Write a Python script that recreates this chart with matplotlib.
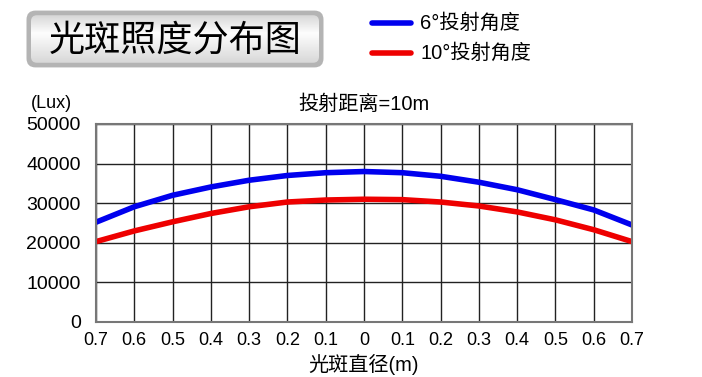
import numpy as np
import matplotlib
matplotlib.use("Agg")
import matplotlib.pyplot as plt
from matplotlib.patches import FancyBboxPatch

plt.rcParams['font.family'] = ['Liberation Sans', 'Noto Sans CJK SC', 'DejaVu Sans']

# data
x = [-0.7, -0.6, -0.5, -0.4, -0.3, -0.2, -0.1, 0.0, 0.1, 0.2, 0.3, 0.4, 0.5, 0.6, 0.7]
lux_6deg = [25200, 29100, 32000, 34100, 35800, 37000, 37700, 38000,
            37700, 36800, 35300, 33400, 30900, 28300, 24500]
lux_10deg = [20300, 23000, 25300, 27400, 29100, 30300, 30800, 31000,
             30900, 30300, 29300, 27800, 25800, 23300, 20300]
xtick_labels = ["0.7", "0.6", "0.5", "0.4", "0.3", "0.2", "0.1", "0",
                "0.1", "0.2", "0.3", "0.4", "0.5", "0.6", "0.7"]
yticks = [0, 10000, 20000, 30000, 40000, 50000]
series_names = ["6°投射角度", "10°投射角度"]

W, H = 702, 377
fig = plt.figure(figsize=(W / 100, H / 100), dpi=100)

ax = fig.add_axes([96 / W, 1 - 322 / H, (632 - 96) / W, (322 - 124) / H])
ax.set_xlim(-0.7, 0.7)
ax.set_ylim(0, 50000)
ax.set_xticks(x)
ax.set_xticklabels(xtick_labels)
ax.set_yticks(yticks)
ax.set_yticklabels([str(v) for v in yticks])
ax.grid(True, color="#222222", linewidth=1)
ax.set_axisbelow(True)
for s in ax.spines.values():
    s.set_color("#777777")
    s.set_linewidth(1.5)
ax.tick_params(length=0, labelsize=14)
ax.tick_params(axis="x", pad=7, labelsize=13)
ax.tick_params(axis="y", pad=11)

ax.plot(x, lux_6deg, color="#0000ee", lw=4, solid_capstyle="butt")
ax.plot(x, lux_10deg, color="#ee0000", lw=4, solid_capstyle="butt")

ax.set_xlabel("光斑直径(m)", fontsize=14.5, labelpad=4)
ax.set_title("投射距离=10m", fontsize=14.5, pad=10)
fig.text(51 / W, 1 - 104 / H, "(Lux)", fontsize=13, ha="center", va="center")

# legend drawn by hand at the top
for i, (name, col) in enumerate(zip(series_names, ["#0000ee", "#ee0000"])):
    yy = 1 - (23 + i * 30) / H
    fig.add_artist(plt.Line2D([372 / W, 411 / W], [yy, yy], color=col, lw=4,
                              solid_capstyle="round"))
    fig.text(420 / W, yy, name, fontsize=14.5, va="center", ha="left")

# title box with gray gradient
bx = fig.add_axes([25 / W, 1 - 68 / H, 300 / W, 58 / H])
bx.set_axis_off()
bx.set_xlim(0, 1)
bx.set_ylim(0, 1)
outer = FancyBboxPatch((0.005, 0.01), 0.99, 0.98, boxstyle="round,pad=0,rounding_size=0.03",
                       mutation_aspect=300 / 58, fc="#b4b4b4", ec="none",
                       transform=bx.transAxes, zorder=1)
bx.add_patch(outer)
grad = np.concatenate([np.linspace(0.80, 0.99, 40), np.linspace(0.99, 0.82, 60)])[:, None]
inner = FancyBboxPatch((0.02, 0.09), 0.96, 0.82, boxstyle="round,pad=0,rounding_size=0.02",
                       mutation_aspect=300 / 58, fc="none", ec="none",
                       transform=bx.transAxes, zorder=1)
bx.add_patch(inner)
im = bx.imshow(grad, cmap="gray", vmin=0, vmax=1, extent=[0, 1, 0, 1],
               aspect="auto", origin="upper", zorder=2)
im.set_clip_path(inner)
bx.text(0.5, 0.47, "光斑照度分布图", fontsize=26, ha="center", va="center",
        family=["Noto Sans CJK SC"], zorder=3)

fig.savefig("out.png", dpi=100)
